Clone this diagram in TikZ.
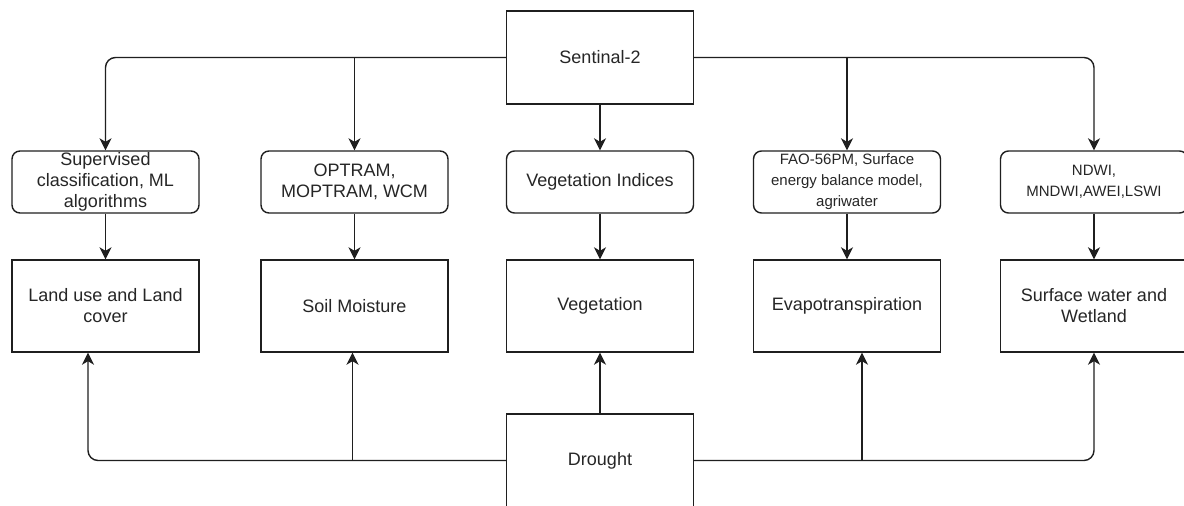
\documentclass[tikz,border=0pt]{standalone}
\usepackage{fontspec}
\setmainfont{Liberation Sans}
\usetikzlibrary{arrows.meta}
\begin{document}
\begin{tikzpicture}[x=1pt,y=-1pt,
  box/.style={draw=black!88, line width=1.4pt, minimum width=187pt, minimum height=93pt, inner sep=0pt, align=center, text=black!85, font=\fontsize{18}{21}\selectfont},
  mbox/.style={box, rounded corners=8pt, minimum height=62pt},
  sbox/.style={mbox, font=\fontsize{15}{21}\selectfont},
  bbox/.style={box, minimum height=92pt},
  arr/.style={draw=black!88, line width=1.4pt, -{Stealth[length=12pt,width=12pt,inset=3.5pt]}, rounded corners=10pt},
]
\useasboundingbox (0,0) rectangle (1184,506);
\fill[white] (0,0) rectangle (1184,506);

\node[box] (sen) at (600,57.5) {Sentinal-2};

\node[mbox] (m1) at (105.5,182) {Supervised\\classification, ML\\algorithms};
\node[mbox] (m2) at (354.5,182) {OPTRAM,\\MOPTRAM, WCM};
\node[mbox] (m3) at (600,182) {Vegetation Indices};
\node[sbox] (m4) at (847,182) {FAO-56PM, Surface\\energy balance model,\\agriwater};
\node[sbox] (m5) at (1094,182) {NDWI,\\MNDWI,AWEI,LSWI};

\node[bbox] (b1) at (105.5,306) {Land use and Land\\cover};
\node[bbox] (b2) at (354.5,306) {Soil Moisture};
\node[bbox] (b3) at (600,306) {Vegetation};
\node[bbox] (b4) at (847,306) {Evapotranspiration};
\node[bbox] (b5) at (1094,306) {Surface water and\\Wetland};

\node[box] (dr) at (600,460.5) {Drought};

% from Sentinal-2
\draw[arr] (sen.west) -| (m1.north);
\draw[arr] (sen.west -| m2.north) -- (m2.north);
\draw[arr] (sen.south) -- (m3.north);
\draw[arr] (sen.east -| m4.north) -- (m4.north);
\draw[arr] (sen.east) -| (m5.north);

% methods to variables
\draw[arr] (m1.south) -- (b1.north);
\draw[arr] (m2.south) -- (b2.north);
\draw[arr] (m3.south) -- (b3.north);
\draw[arr] (m4.south) -- (b4.north);
\draw[arr] (m5.south) -- (b5.north);

% from Drought
\coordinate (e1) at ([xshift=-17.5pt]b1.south);
\coordinate (e2) at ([xshift=-2pt]b2.south);
\coordinate (e4) at ([xshift=15pt]b4.south);
\draw[arr] (dr.west) -| (e1);
\draw[arr] (dr.west -| e2) -- (e2);
\draw[arr] (dr.north) -- (b3.south);
\draw[arr] (dr.east -| e4) -- (e4);
\draw[arr] (dr.east) -| (b5.south);
\end{tikzpicture}
\end{document}
